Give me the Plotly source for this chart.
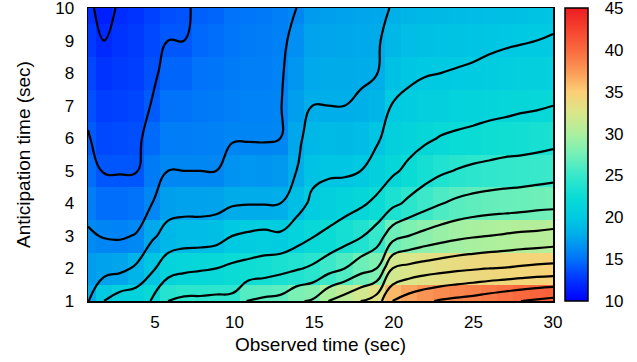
import plotly.graph_objects as go

# Observed time (x, sec) at each column of the grid
observed_time = [0.8, 1.81, 2.81, 3.82, 4.83, 5.83, 6.84, 7.85, 8.86, 9.86,
                 10.87, 11.88, 12.88, 13.89, 14.90, 15.90, 16.91, 17.92, 18.92, 19.93,
                 20.94, 21.94, 22.95, 23.96, 24.97, 25.97, 26.98, 27.99, 28.99, 30.0]
# Anticipation time (y, sec)
anticipation_time = [1, 2, 3, 4, 5, 6, 7, 8, 9, 10]

# values per anticipation-time row (row for 1 s ... row for 10 s)
row_1s = [17.9, 20.0, 21.0, 21.2, 22.1, 24.0, 24.4, 24.4, 24.5, 24.5, 26.2, 26.4, 26.6, 27.8, 28.2,
          30.0, 31.0, 32.0, 33.0, 36.0, 37.0, 37.7, 38.2, 38.5, 38.8, 39.2, 39.6, 40.0, 40.3, 40.6]
row_2s = [17.1, 17.3, 17.5, 18.3, 19.7, 21.2, 21.6, 21.8, 22.0, 22.4, 22.7, 23.0, 23.4, 23.8, 24.3,
          25.2, 26.0, 27.2, 28.0, 32.0, 32.6, 33.0, 33.3, 33.6, 33.8, 34.0, 34.1, 34.3, 34.5, 34.6]
row_3s = [16.2, 15.9, 15.8, 16.1, 17.7, 18.7, 19.0, 19.0, 19.2, 20.0, 20.3, 20.5, 20.3, 21.1, 21.9,
          22.4, 23.1, 23.8, 24.9, 27.2, 28.0, 28.6, 29.1, 29.5, 29.8, 30.0, 30.2, 30.4, 30.5, 30.7]
row_4s = [15.5, 14.8, 14.8, 15.0, 16.0, 17.2, 17.3, 17.3, 17.4, 17.8, 17.9, 17.9, 18.0, 19.2, 20.4,
          20.9, 21.2, 21.7, 22.4, 23.5, 24.4, 25.2, 25.9, 26.4, 26.7, 26.9, 27.0, 27.1, 27.3, 27.4]
row_5s = [14.8, 13.9, 13.9, 13.9, 15.4, 16.0, 16.0, 16.0, 16.0, 16.6, 16.8, 16.7, 16.9, 18.0, 19.5,
          19.7, 19.7, 20.0, 20.9, 21.7, 22.4, 23.1, 23.7, 24.1, 24.4, 24.6, 24.8, 24.9, 25.0, 25.2]
row_6s = [14.1, 13.4, 13.5, 13.6, 14.7, 15.5, 15.5, 15.6, 15.7, 15.9, 15.9, 15.9, 16.0, 17.6, 18.7,
          18.9, 18.8, 19.0, 19.7, 20.9, 21.3, 21.7, 22.1, 22.3, 22.5, 22.7, 22.9, 23.0, 23.2, 23.4]
row_7s = [13.7, 13.0, 13.1, 13.3, 14.1, 15.0, 15.0, 15.3, 15.4, 15.6, 15.8, 15.8, 15.9, 17.2, 18.0,
          18.0, 18.0, 18.1, 18.5, 20.1, 20.4, 20.7, 20.9, 21.1, 21.2, 21.4, 21.5, 21.7, 21.8, 22.0]
row_8s = [13.3, 12.5, 12.8, 13.0, 13.7, 14.5, 14.5, 15.0, 15.1, 15.4, 15.6, 15.6, 15.8, 16.8, 17.7,
          17.8, 17.8, 17.9, 17.95, 19.3, 19.7, 19.9, 20.0, 20.1, 20.2, 20.4, 20.6, 20.7, 20.9, 21.0]
row_9s = [12.8, 12.0, 12.5, 12.8, 13.4, 14.0, 14.0, 14.6, 14.8, 15.2, 15.4, 15.5, 15.7, 16.4, 17.4,
          17.5, 17.6, 17.7, 17.8, 18.6, 19.1, 19.3, 19.4, 19.5, 19.6, 19.7, 19.8, 19.9, 20.0, 20.1]
row_10s = [12.3, 11.5, 12.2, 12.5, 13.1, 13.6, 13.8, 14.3, 14.5, 15.0, 15.2, 15.3, 15.6, 16.0, 17.0,
           17.2, 17.3, 17.5, 17.6, 18.1, 18.5, 18.7, 18.8, 18.9, 19.0, 19.1, 19.2, 19.3, 19.5, 19.6]

z = [row_1s, row_2s, row_3s, row_4s, row_5s, row_6s, row_7s, row_8s, row_9s, row_10s]

x_ticks = [5, 10, 15, 20, 25, 30]
y_ticks = [1, 2, 3, 4, 5, 6, 7, 8, 9, 10]
cbar_ticks = [10, 15, 20, 25, 30, 35, 40, 45]
contour_start, contour_end, contour_step = 12, 44, 2
zmin, zmax = 10, 45

colorscale = [
    [0.000, "rgb(0,0,255)"],
    [0.086, "rgb(0,62,255)"],
    [0.143, "rgb(0,115,250)"],
    [0.229, "rgb(0,175,233)"],
    [0.286, "rgb(0,202,226)"],
    [0.357, "rgb(10,220,213)"],
    [0.429, "rgb(55,232,203)"],
    [0.500, "rgb(115,240,183)"],
    [0.571, "rgb(172,240,158)"],
    [0.643, "rgb(218,230,138)"],
    [0.714, "rgb(252,206,116)"],
    [0.786, "rgb(250,152,86)"],
    [0.857, "rgb(250,105,62)"],
    [0.929, "rgb(245,66,46)"],
    [1.000, "rgb(235,28,32)"],
]

FONT = "Liberation Sans, Arial, Helvetica, sans-serif"

# plot area in pixels (for placing the colorbar next to it)
PLOT_W = 637 - 88 - 84
BAR_X0 = 1 + 12 / PLOT_W
BAR_W = 23

fig = go.Figure()
fig.add_trace(go.Heatmap(
    x=observed_time, y=anticipation_time, z=z,
    zmin=zmin, zmax=zmax, colorscale=colorscale, zsmooth=False,
    colorbar=dict(
        x=BAR_X0, xanchor="left", y=0.5, yanchor="middle", len=1.0, lenmode="fraction",
        thickness=BAR_W, thicknessmode="pixels", xpad=0, ypad=0,
        outlinewidth=1.5, outlinecolor="black",
        tickvals=cbar_ticks, ticks="outside", ticklen=13, tickcolor="rgba(0,0,0,0)",
        ticklabeloverflow="allow",
        tickfont=dict(family=FONT, size=17, color="black"),
    ),
    hoverinfo="skip",
))
fig.add_trace(go.Contour(
    x=observed_time, y=anticipation_time, z=z,
    contours=dict(start=contour_start, end=contour_end, size=contour_step, coloring="none"),
    line=dict(color="black", width=2.2, smoothing=1.3),
    showscale=False, hoverinfo="skip",
))

# small inside tick marks on the colorbar (both sides)
bar_left = BAR_X0
bar_right = BAR_X0 + BAR_W / PLOT_W
tick_w = 4 / PLOT_W
for v in cbar_ticks[1:-1]:
    yy = (v - zmin) / (zmax - zmin)
    fig.add_shape(type="line", xref="paper", yref="paper", x0=bar_left, x1=bar_left + tick_w,
                  y0=yy, y1=yy, line=dict(color="black", width=1.5))
    fig.add_shape(type="line", xref="paper", yref="paper", x0=bar_right - tick_w, x1=bar_right,
                  y0=yy, y1=yy, line=dict(color="black", width=1.5))

fig.update_layout(
    width=637, height=362,
    margin=dict(l=88, r=84, t=8, b=61, autoexpand=False),
    paper_bgcolor="white", plot_bgcolor="white",
    font=dict(family=FONT, size=17, color="black"),
    showlegend=False,
    xaxis=dict(
        range=[observed_time[0], observed_time[-1]], tickvals=x_ticks, ticks="",
        showline=True, linecolor="black", linewidth=1.5, mirror=True,
        showgrid=False, zeroline=False, ticklabelstandoff=5, automargin=False,
        ticklabeloverflow="allow",
        tickfont=dict(family=FONT, size=17),
        title=dict(text="Observed time (sec)", font=dict(family=FONT, size=19), standoff=7),
    ),
    yaxis=dict(
        range=[anticipation_time[0], anticipation_time[-1]], tickvals=y_ticks, ticks="",
        showline=True, linecolor="black", linewidth=1.5, mirror=True,
        showgrid=False, zeroline=False, ticklabelstandoff=9, automargin=False,
        ticklabeloverflow="allow",
        tickfont=dict(family=FONT, size=17),
        title=dict(text="Anticipation time (sec)", font=dict(family=FONT, size=19), standoff=19),
    ),
)

fig.write_html(
    "out.html",
    config={"displayModeBar": False, "staticPlot": True},
    post_script="document.body.style.margin='0';document.body.style.padding='0';",
)
